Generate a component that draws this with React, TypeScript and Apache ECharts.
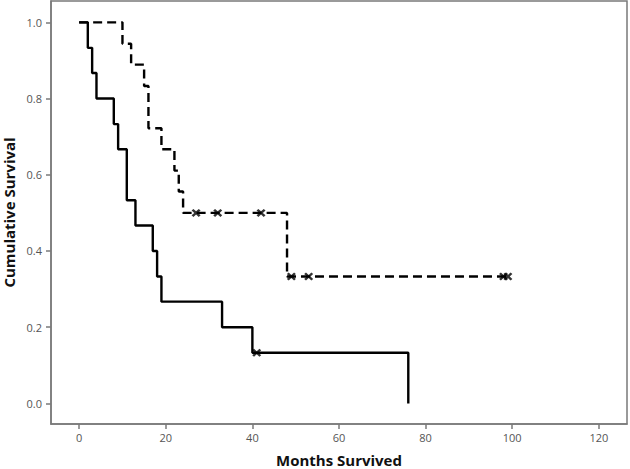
import React, { useEffect, useRef } from "react";
import * as echarts from "echarts";

// Kaplan-Meier curve, group A (solid): [months, cumulative survival]
const solidSteps: [number, number][] = [
  [0, 1.0], [2, 0.933], [3, 0.867], [4, 0.8], [8, 0.733], [9, 0.667],
  [11, 0.533], [13, 0.467], [17, 0.4], [18, 0.333], [19, 0.267],
  [33, 0.2], [40, 0.133], [76, 0.0],
];
const solidCensored: [number, number][] = [[41, 0.133]];

// Group B (dashed)
const dashedSteps: [number, number][] = [
  [0, 1.0], [10, 0.944], [12, 0.889], [15, 0.833], [16, 0.722],
  [19, 0.667], [22, 0.611], [23, 0.556], [24, 0.5], [48, 0.333], [99, 0.333],
];
const dashedCensored: [number, number][] = [
  [27, 0.5], [32, 0.5], [42, 0.5], [49, 0.333], [53, 0.333], [98, 0.333], [99, 0.333],
];

const xTicks = [0, 20, 40, 60, 80, 100, 120];
const yTicks = [0, 0.2, 0.4, 0.6, 0.8, 1.0];

const CROSS =
  "path://M0,2L2,0L5,3L8,0L10,2L7,5L10,8L8,10L5,7L2,10L0,8L3,5Z";

export default function App() {
  const ref = useRef<HTMLDivElement>(null);
  useEffect(() => {
    document.body.style.margin = "0";
    if (!ref.current) return;
    const chart = echarts.init(ref.current, undefined, { renderer: "svg" });
    const axisColor = "#7a7a7a";
    const font = "'Open Sans', 'DejaVu Sans', sans-serif";
    chart.setOption({
      animation: false,
      backgroundColor: "#ffffff",
      grid: {
        left: 51,
        top: 1,
        right: 3,
        bottom: 45,
        containLabel: false,
        outerBoundsMode: "none",
        show: true,
        borderColor: axisColor,
        borderWidth: 1.5,
        backgroundColor: "#ffffff",
      },
      xAxis: {
        type: "value",
        min: -6.5,
        max: 126.5,
        name: "Months Survived",
        nameLocation: "middle",
        nameGap: 28,
        nameMoveOverlap: false,
        nameTextStyle: {
          fontFamily: font,
          fontWeight: "bold",
          fontSize: 15,
          color: "#111",
        },
        splitLine: { show: false },
        axisLine: { show: true, onZero: false, lineStyle: { color: axisColor, width: 1.5 } },
        axisTick: {
          show: true,
          length: 5,
          customValues: xTicks,
          lineStyle: { color: axisColor, width: 1.5 },
        },
        axisLabel: {
          customValues: xTicks,
          margin: 8,
          fontFamily: font,
          fontSize: 11,
          color: "#555",
        },
      },
      yAxis: {
        type: "value",
        min: -0.054,
        max: 1.056,
        name: "Cumulative Survival",
        nameLocation: "middle",
        nameGap: 35,
        nameMoveOverlap: false,
        nameTextStyle: {
          fontFamily: font,
          fontWeight: "bold",
          fontSize: 15,
          color: "#111",
        },
        splitLine: { show: false },
        axisLine: { show: true, onZero: false, lineStyle: { color: axisColor, width: 1.5 } },
        axisTick: {
          show: true,
          length: 5,
          customValues: yTicks,
          lineStyle: { color: axisColor, width: 1.5 },
        },
        axisLabel: {
          customValues: yTicks,
          margin: 9,
          fontFamily: font,
          fontSize: 11,
          color: "#555",
          formatter: (v: number) => v.toFixed(1),
        },
      },
      series: [
        {
          type: "line",
          step: "end",
          data: solidSteps,
          showSymbol: false,
          lineStyle: { color: "#000", width: 2.4, type: "solid" },
          z: 3,
        },
        {
          type: "line",
          step: "end",
          data: dashedSteps,
          showSymbol: false,
          lineStyle: { color: "#000", width: 2.4, type: [9, 5] },
          z: 3,
        },
        {
          type: "scatter",
          data: solidCensored,
          symbol: CROSS,
          symbolSize: [9, 8],
          itemStyle: { color: "#000" },
          z: 4,
        },
        {
          type: "scatter",
          data: dashedCensored,
          symbol: CROSS,
          symbolSize: [9, 8],
          itemStyle: { color: "#000" },
          z: 4,
        },
      ],
    });
    return () => chart.dispose();
  }, []);
  return <div ref={ref} style={{ width: 630, height: 469 }} />;
}
